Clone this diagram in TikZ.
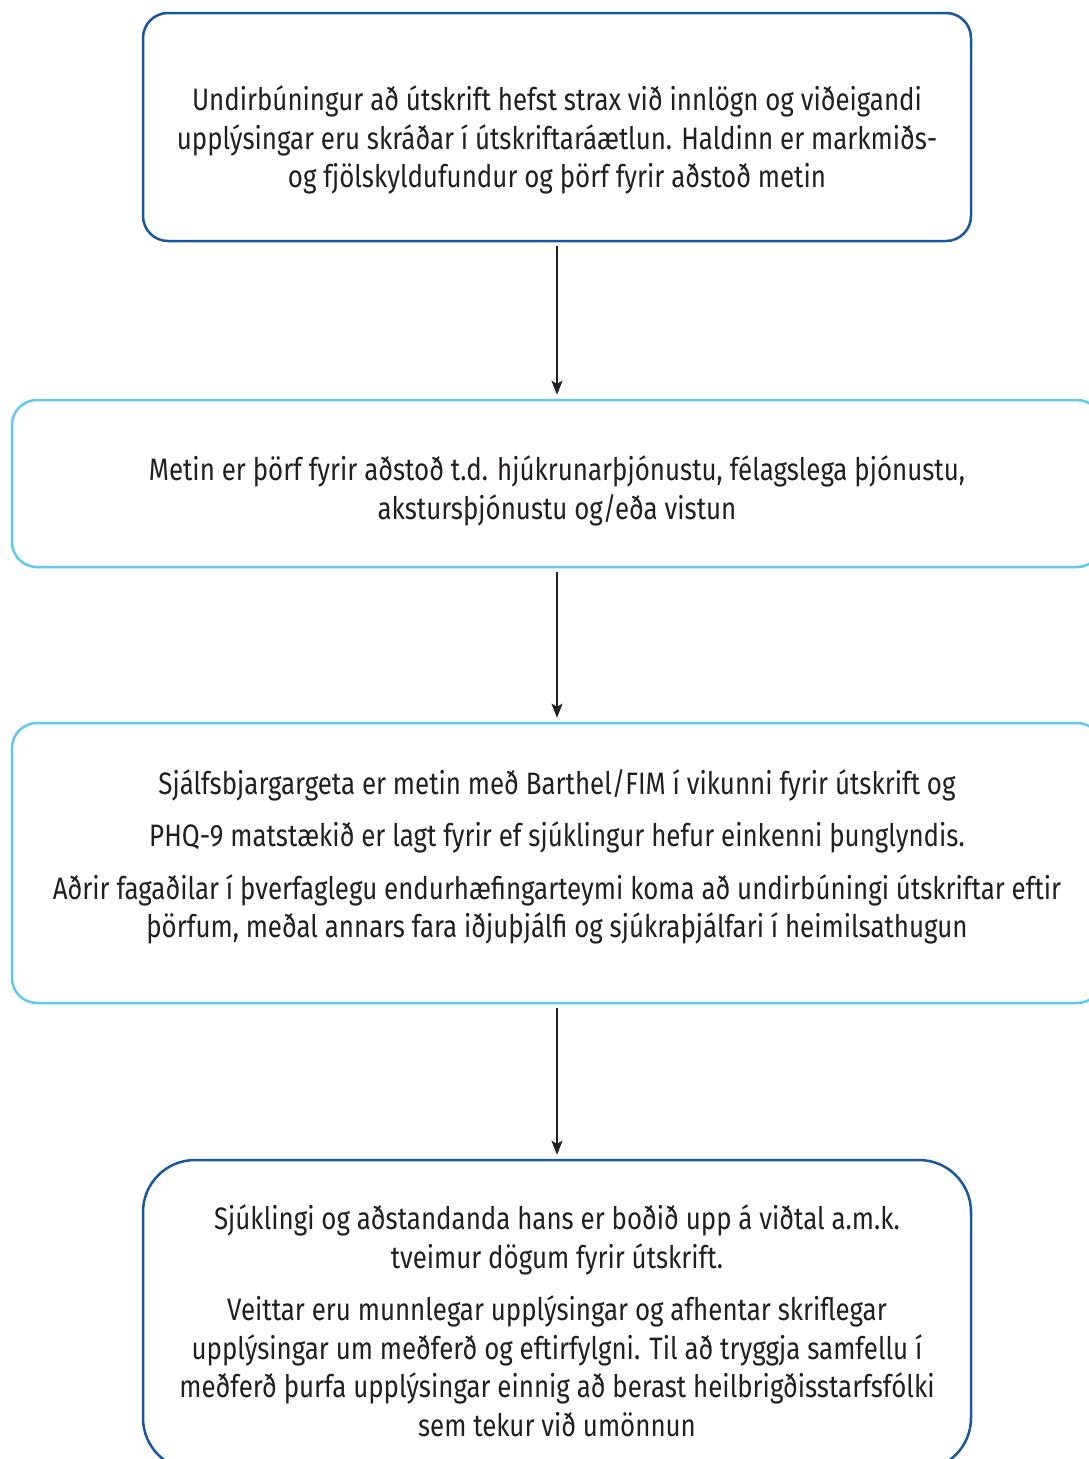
\documentclass[tikz,border=0pt]{standalone}
\usepackage{fontspec}
\setmainfont{Fira Sans}[FakeStretch=0.835]
\usetikzlibrary{arrows.meta}
\definecolor{darkblue}{RGB}{22,88,160}
\definecolor{lightblue}{RGB}{95,200,245}
\definecolor{txt}{RGB}{35,31,32}
\tikzset{
  boxa/.style={draw=darkblue, line width=2.5pt, rounded corners=25pt, inner sep=0pt},
  boxb/.style={draw=lightblue, line width=2.5pt, rounded corners=25pt, inner sep=0pt},
  boxc/.style={draw=darkblue, line width=2.5pt, rounded corners=52pt, inner sep=0pt},
  label/.style={text=txt, align=center, inner sep=0pt, font=\fontsize{31pt}{38.5pt}\selectfont},
  conn/.style={line width=2pt, draw=txt, -{Stealth[length=14pt,width=11pt,inset=3pt]}, shorten >=4pt, shorten <=4pt}
}
\begin{document}
\begin{tikzpicture}[x=1pt,y=-1pt]
\clip (0,0) rectangle (1089,1459);
\fill[white] (0,0) rectangle (1089,1459);
\node[boxa, minimum width=828pt, minimum height=228pt] (b1) at (557,127) {};
\node[boxb, minimum width=1090pt, minimum height=167pt] (b2) at (557,483.5) {};
\node[boxb, minimum width=1090pt, minimum height=280pt] (b3) at (557,863) {};
\node[boxc, minimum width=828pt, minimum height=310pt] (b4) at (557,1315) {};
\node[label] (t1) at (557,140) {Undirbúningur að útskrift hefst strax við innlögn og viðeigandi\\upplýsingar eru skráðar í útskriftaráætlun. Haldinn er markmiðs-\\og fjölskyldufundur og þörf fyrir aðstoð metin};
\node[label] (t2) at (557,491) {Metin er þörf fyrir aðstoð t.d. hjúkrunarþjónustu, félagslega þjónustu,\\akstursþjónustu og/eða vistun};
\node[label] (t3) at (557,857) {Sjálfsbjargargeta er metin með Barthel/FIM í vikunni fyrir útskrift og\\[14pt]PHQ-9 matstækið er lagt fyrir ef sjúklingur hefur einkenni þunglyndis.\\[14pt]Aðrir fagaðilar í þverfaglegu endurhæfingarteymi koma að undirbúningi útskriftar eftir\\þörfum, meðal annars fara iðjuþjálfi og sjúkraþjálfari í heimilsathugun};
\node[label] (t4) at (557,1321) {Sjúklingi og aðstandanda hans er boðið upp á viðtal a.m.k.\\tveimur dögum fyrir útskrift.\\[14pt]Veittar eru munnlegar upplýsingar og afhentar skriflegar\\upplýsingar um meðferð og eftirfylgni. Til að tryggja samfellu í\\meðferð þurfa upplýsingar einnig að berast heilbrigðisstarfsfólki\\sem tekur við umönnun};
\draw[conn] (b1.south) -- (b2.north);
\draw[conn] (b2.south) -- (b3.north);
\draw[conn] (b3.south) -- (b4.north);
\end{tikzpicture}
\end{document}
